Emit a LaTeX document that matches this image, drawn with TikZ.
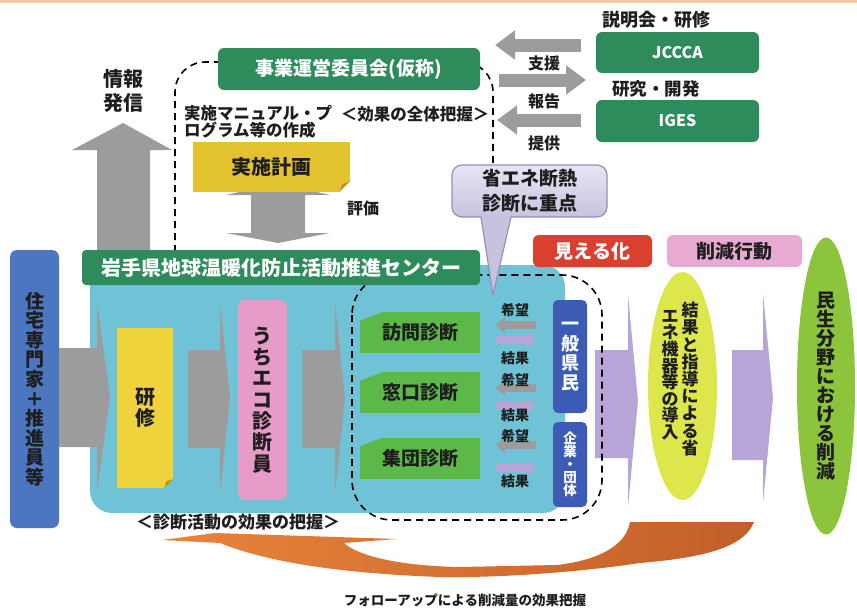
\documentclass[tikz,border=0pt]{standalone}
\usepackage{fontspec}
\setmainfont{Noto Sans CJK JP}
\usetikzlibrary{arrows.meta,shapes.geometric}
\newcommand\fsz[2]{\fontsize{#1pt}{#2pt}\selectfont}
\definecolor{ink}{HTML}{1E1E1E}
\definecolor{peach}{HTML}{F5CBA6}
\definecolor{dkgreen}{HTML}{2E8B5C}
\definecolor{flatgray}{HTML}{9C9C9C}
\definecolor{lightblue}{HTML}{70C3D6}
\definecolor{navybox}{HTML}{4C77C0}
\definecolor{deepblue}{HTML}{3B5BB4}
\definecolor{planyellow}{HTML}{E2C22E}
\definecolor{studyyellow}{HTML}{F0D23C}
\definecolor{foldyellow}{HTML}{B89A1C}
\definecolor{pinkbox}{HTML}{E79BC8}
\definecolor{diaggreen}{HTML}{5CB947}
\definecolor{lilacarrow}{HTML}{B7A5D8}
\definecolor{calloutA}{HTML}{E7E5F3}
\definecolor{calloutB}{HTML}{C7C3DF}
\definecolor{calloutline}{HTML}{9590B8}
\definecolor{redbox}{HTML}{D9402E}
\definecolor{rosebox}{HTML}{E8A9D2}
\definecolor{limeoval}{HTML}{DDE64A}
\definecolor{greenoval}{HTML}{8CC43C}
\definecolor{orangeL}{HTML}{E8843A}
\definecolor{orangeR}{HTML}{C25F29}

\begin{document}
\begin{tikzpicture}[x = 1pt, y = -1pt,
    every node/.style = {inner sep = 0pt, text = ink},
    lbl/.style = {font = \bfseries\fsz{16}{19}},
    dkbox/.style = {fill = dkgreen, rounded corners = 6pt, text = white,
        font = \bfseries\fsz{19}{22}},
    vtext/.style = {align = center},
    dashline/.style = {line width = 1.6pt, dash pattern = on 7pt off 5pt},
    flat/.style = {fill = flatgray},
    lilac/.style = {fill = lilacarrow},
    bigarr/.style = {line width = 13pt, draw = flatgray,
        -{Triangle[length = 20pt, width = 28pt]}},
    hopearr/.style = {line width = 8pt, draw = flatgray,
        -{Triangle[length = 9pt, width = 16pt]}},
    resultarr/.style = {line width = 8pt, draw = lilacarrow,
        -{Triangle[length = 9pt, width = 16pt]}},
    diag/.style = {fill = diaggreen, minimum width = 120pt, minimum height = 41pt,
        font = \bfseries\fsz{19}{22}},
    peoplebox/.style = {fill = deepblue, rounded corners = 5pt, text = white,
        minimum width = 34pt, align = center},
    small/.style = {font = \bfseries\fsz{14}{16}}]
    \useasboundingbox (0,0) rectangle (857,608);
    \fill[peach] (0,0) rectangle (857,3);

    % information arrow, committee and plan
    \fill[flat] (97,252) -- (97,150) -- (72,150) -- (123,123) -- (172,150)
        -- (150,150) -- (150,252) -- cycle;
    \node[lbl, font = \bfseries\fsz{20}{23.5}, align = center] (info) at (123,91) {情報\\発信};
    \draw[dashline, rounded corners = 30pt] (175,252) -- (175,62) -- (493,62) -- (493,166);
    \node[dkbox, minimum width = 262pt, minimum height = 42pt] (committee) at (349,69)
        {事業運営委員会(仮称)};
    \node[lbl, anchor = west, align = left, font = \bfseries\fsz{16.5}{17.5}] (manual)
        at (184,122) {実施マニュアル・プ\\ログラム等の作成};
    \node[lbl, font = \bfseries\fsz{16.5}{19}] (overall) at (415,114) {＜効果の全体把握＞};
    \fill[flat] (278,183) -- (330,195) -- (305,195) -- (305,233) -- (330,233)
        -- (278,243) -- (226,233) -- (251,233) -- (251,195) -- (226,195) -- cycle;
    \node[fill = planyellow, minimum width = 157pt, minimum height = 50pt,
        font = \bfseries\fsz{20}{22}] (plan) at (271.5,167) {実施計画};
    \fill[white] ([xshift = -11pt]plan.south east) -- (plan.south east)
        -- ([yshift = 11pt]plan.south east) -- cycle;
    \fill[foldyellow] ([xshift = -11pt]plan.south east) -- ([yshift = 11pt]plan.south east)
        -- ([xshift = -8pt, yshift = 8pt]plan.south east) -- cycle;
    \node[lbl] (evaluate) at (363,208) {評価};

    % partners
    \node[dkbox, minimum width = 163pt, minimum height = 41pt, font = \bfseries\fsz{16}{19}]
        (jccca) at (677.5,52.5) {JCCCA};
    \node[dkbox, minimum width = 163pt, minimum height = 42pt, font = \bfseries\fsz{16}{19}]
        (iges) at (677.5,121) {IGES};
    \node[lbl, font = \bfseries\fsz{18}{20}] (seminar) at (656,20) {説明会・研修};
    \node[lbl, font = \bfseries\fsz{17.5}{20}] (research) at (656,89) {研究・開発};
    \draw[bigarr] (581,45) -- (495,45);
    \draw[bigarr] (499,80) -- (586,80);
    \draw[bigarr] (581,120) -- (497,120);
    \node[lbl] (support) at (544,63) {支援};
    \node[lbl] (report) at (544,101) {報告};
    \node[lbl] (supply) at (544,143) {提供};

    % centre
    \fill[lightblue, rounded corners = 22pt] (90,265) rectangle (565,513);
    \fill[flat] (188,350) -- (220,350) -- (220,302) -- (230,398) -- (220,494)
        -- (220,448) -- (188,448) -- cycle;
    \fill[flat] (302,350) -- (335,350) -- (335,302) -- (345,398) -- (335,494)
        -- (335,448) -- (302,448) -- cycle;
    \node[fill = studyyellow, minimum width = 56pt, minimum height = 160pt, vtext,
        font = \bfseries\fsz{20}{21}] (study) at (145,408) {研\\修};
    \fill[lightblue] ([xshift = -9pt]study.south east) -- (study.south east)
        -- ([yshift = 9pt]study.south east) -- cycle;
    \fill[foldyellow] ([xshift = -9pt]study.south east) -- ([yshift = 9pt]study.south east)
        -- ([xshift = -7pt, yshift = 7pt]study.south east) -- cycle;
    \node[fill = pinkbox, rounded corners = 7pt, minimum width = 49pt, minimum height = 200pt,
        vtext, font = \bfseries\fsz{20}{21.3}] (advisor) at (262.5,400)
        {う\\ち\\エ\\コ\\診\\断\\員};

    % results flow
    \fill[lilac] (595,350) -- (628,350) -- (628,295) -- (638,401) -- (628,507)
        -- (628,458) -- (595,458) -- cycle;
    \fill[lilac] (732,350) -- (763,350) -- (763,293) -- (773,398) -- (763,503)
        -- (763,460) -- (732,460) -- cycle;

    \draw[dashline, rounded corners = 40pt] (352,275) rectangle (602,520);
    \node[dkbox, rounded corners = 4pt, minimum width = 398pt, minimum height = 35pt,
        font = \bfseries\fsz{20}{22}] (centre) at (281,267.5)
        {岩手県地球温暖化防止活動推進センター};

    \node[diag] (visit) at (420,332.5) {訪問診断};
    \node[diag] (window) at (420,392.5) {窓口診断};
    \node[diag] (group) at (420,458) {集団診断};
    \foreach \b in {visit, window, group}
        \fill[lightblue] (\b.north west) -- ([xshift = 23pt]\b.north west)
            -- ([yshift = -9pt]\b.north west) -- cycle;

    \node[peoplebox, minimum height = 113pt, font = \bfseries\fsz{18}{19.5}] (public)
        at (570,356.5) {一\\般\\県\\民};
    \node[peoplebox, minimum height = 85pt, font = \bfseries\fsz{13.5}{13}] (company)
        at (570,464.5) {企\\業\\・\\団\\体};
    \foreach \y in {325, 388, 445}
        \draw[hopearr] (536,\y) -- (496,\y);
    \foreach \y in {340, 405, 468}
        \draw[resultarr] (496,\y) -- (536,\y);
    \node[small] (hope1) at (515,310) {希望};
    \node[small] (res1) at (515,358) {結果};
    \node[small] (hope2) at (515,380) {希望};
    \node[small] (res2) at (515,415) {結果};
    \node[small] (hope3) at (515,436) {希望};
    \node[small] (res3) at (515,481) {結果};

    % callout
    \node[rounded corners = 10pt, top color = calloutA, bottom color = calloutB,
        draw = calloutline, line width = 1.2pt, minimum width = 155pt, minimum height = 52pt,
        align = center, font = \bfseries\fsz{19}{25}] (focus) at (529.5,191)
        {省エネ断熱\\診断に重点};
    \fill[calloutB] (481,215) -- (493,295) -- (511,215) -- cycle;
    \draw[calloutline, line width = 1.2pt] (481,217) -- (493,295) -- (511,217);

    % experts
    \node[fill = navybox, rounded corners = 7pt, minimum width = 49pt, minimum height = 278pt,
        vtext, font = \bfseries\fsz{19}{19.6}] (experts) at (34.5,389)
        {住\\宅\\専\\門\\家\\＋\\推\\進\\員\\等};
    \fill[flat] (59,348) -- (97,348) -- (97,302) -- (110,397) -- (97,492)
        -- (97,447) -- (59,447) -- cycle;

    % visible results
    \node[fill = redbox, rounded corners = 6pt, minimum width = 119pt, minimum height = 32pt,
        text = white, font = \bfseries\fsz{19}{22}] (visual) at (592.5,251) {見える化};
    \node[fill = rosebox, rounded corners = 6pt, minimum width = 135pt, minimum height = 32pt,
        font = \bfseries\fsz{19}{22}] (action) at (734.5,251) {削減行動};
    \node[ellipse, fill = limeoval, minimum width = 69pt, minimum height = 228pt] (devices)
        at (682.5,386) {};
    \node[vtext, anchor = north, font = \bfseries\fsz{17}{17.2}] (devicesA) at (690,302)
        {結\\果\\と\\指\\導\\に\\よ\\る\\省};
    \node[vtext, anchor = north, font = \bfseries\fsz{17}{16.6}] (devicesB) at (670,310)
        {エ\\ネ\\機\\器\\等\\の\\導\\入};
    \node[ellipse, fill = greenoval, minimum width = 58pt, minimum height = 297pt,
        vtext, font = \bfseries\fsz{19}{19}] (cut) at (826,386)
        {民\\生\\分\\野\\に\\お\\け\\る\\削\\減};

    % follow-up
    \shade[left color = orangeL, right color = orangeR]
        (162,540) -- (215,533) -- (397,539) -- (344,543)
        .. controls (358,556) and (400,566) .. (460,567) -- (557,565)
        .. controls (600,560) and (626,545) .. (630,522) -- (754,522)
        .. controls (745,545) and (712,557) .. (640,563)
        .. controls (580,572) and (500,578) .. (440,577)
        .. controls (330,573) and (262,560) .. (220,543) -- cycle;
    \node[lbl, font = \bfseries\fsz{17}{19}] (effect) at (238,522) {＜診断活動の効果の把握＞};
    \node[small, font = \bfseries\fsz{13.5}{15}] (followup) at (465,600)
        {フォローアップによる削減量の効果把握};
\end{tikzpicture}
\end{document}
